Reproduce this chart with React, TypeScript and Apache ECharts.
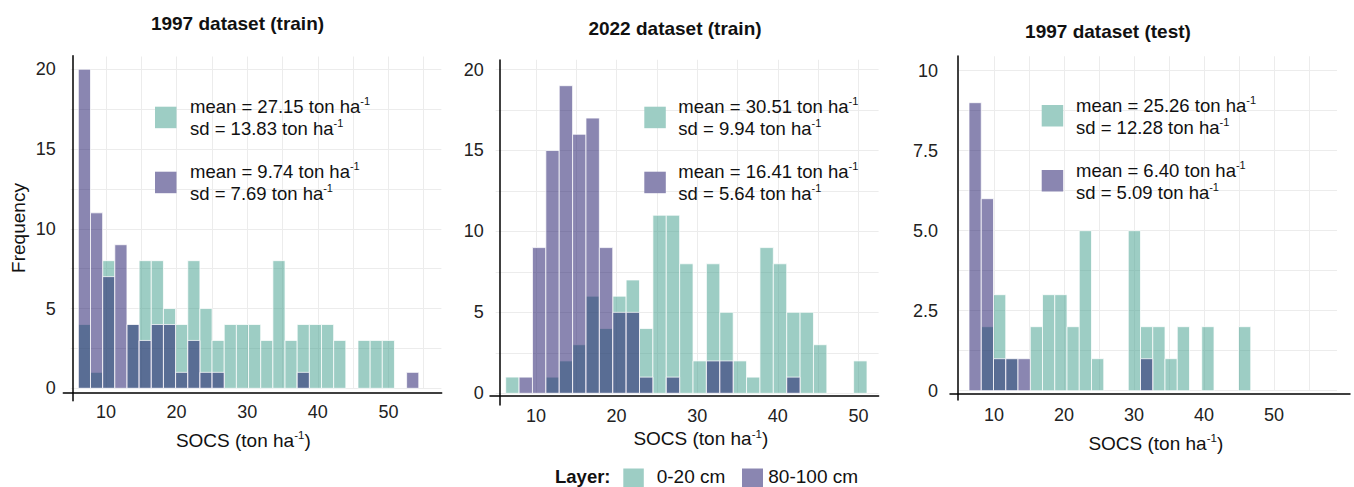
import React, { useEffect, useRef } from "react";
import * as echarts from "echarts";

// ---------------- data ----------------
const panelTitles = ["1997 dataset (train)", "2022 dataset (train)", "1997 dataset (test)"];
const layerNames = ["0-20 cm", "80-100 cm"];

// histogram bins (left edge of first bin, bin width) per panel
const binStart = [6.08, 6.24, 6.43];
const binWidth = [1.722, 1.66, 1.75];

// counts per bin, 0-20 cm layer
const topsoil1997Train = [4, 1, 8, 0, 4, 8, 8, 5, 4, 8, 5, 3, 4, 4, 4, 3, 8, 3, 4, 4, 4, 3, 0, 3, 3, 3, 0, 0];
const topsoil2022Train = [1, 0, 0, 1, 2, 3, 6, 4, 6, 7, 4, 11, 11, 8, 2, 8, 5, 2, 1, 9, 8, 5, 5, 3, 0, 0, 2];
const topsoil1997Test = [0, 2, 3, 1, 0, 2, 3, 3, 2, 5, 1, 0, 0, 5, 2, 2, 1, 2, 0, 2, 0, 0, 2];
// counts per bin, 80-100 cm layer
const subsoil1997Train = [20, 11, 7, 9, 4, 3, 4, 4, 1, 3, 1, 1, 0, 0, 0, 0, 0, 0, 1, 0, 0, 0, 0, 0, 0, 0, 0, 1];
const subsoil2022Train = [0, 1, 9, 15, 19, 16, 17, 9, 5, 5, 1, 0, 1, 0, 0, 2, 2, 0, 0, 0, 0, 1, 0, 0, 0, 0, 0];
const subsoil1997Test = [9, 6, 1, 1, 1, 0, 0, 0, 0, 0, 0, 0, 0, 0, 1, 0, 0, 0, 0, 0, 0, 0, 0];

const topsoilCounts = [topsoil1997Train, topsoil2022Train, topsoil1997Test];
const subsoilCounts = [subsoil1997Train, subsoil2022Train, subsoil1997Test];

// summary statistics shown in the panels
const topsoilMean = ["27.15", "30.51", "25.26"];
const topsoilSd = ["13.83", "9.94", "12.28"];
const subsoilMean = ["9.74", "16.41", "6.40"];
const subsoilSd = ["7.69", "5.64", "5.09"];

// axes
const xMin = [5, 5, 5];
const xMax = [57.5, 52.5, 59];
const xStep = [5, 5, 5];
const xTickValues = [10, 20, 30, 40, 50];
const xTickLabels = ["10", "20", "30", "40", "50"];
const yMax = [20.8, 20.6, 10.45];
const yStep = [2.5, 2.5, 1.25];
const yTickValuesA = [0, 5, 10, 15, 20];
const yTickLabelsA = ["0", "5", "10", "15", "20"];
const yTickValuesB = [0, 2.5, 5, 7.5, 10];
const yTickLabelsB = ["0", "2.5", "5.0", "7.5", "10"];

// ---------------- layout ----------------
const FONT = "'Liberation Sans', Arial, Helvetica, sans-serif";
const TEAL = "rgba(59,155,137,0.5)";
const PURPLE = "rgba(22,14,100,0.5)";
const TEAL_SOLID = "#9dcdc4";
const PURPLE_SOLID = "#8a86b1";
const GRIDLINE = "#ececec";
const ZTOP = 100;

// data grid rectangles
const grids = [
  { left: 70.7, top: 56.5, width: 370.7, height: 331.8 },
  { left: 495.7, top: 59.8, width: 382.9, height: 333.5 },
  { left: 959, top: 56.3, width: 378, height: 334.4 },
];
// axis-line frames: yLineX, xLineStart, xLineY, yLineEnd, top, right
const frames = [
  { yLineX: 72.3, xStart: 63.3, xLineY: 392.5, yEnd: 400.7, top: 55.7, right: 441.7 },
  { yLineX: 499.3, xStart: 490, xLineY: 396.2, yEnd: 405, top: 60, right: 878.6 },
  { yLineX: 957.3, xStart: 950, xLineY: 393.3, yEnd: 400, top: 56, right: 1350 },
];
const xLabelMargin = [14.4, 13.7, 15.3];
const yLabelMargin = [15, 12, 21];
const titlePos = [
  [237.5, 23.3],
  [675, 28],
  [1108, 31],
];
const xNamePos = [
  [243.3, 440],
  [700.8, 438.5],
  [1155.8, 443],
];
const legendPos = [
  { sqX: 155, sq1: 106.7, sq2: 171.7, tx: 190 },
  { sqX: 644.3, sq1: 106.7, sq2: 171.7, tx: 678.3 },
  { sqX: 1041.7, sq1: 105, sq2: 170, tx: 1076 },
];

function labelFor(values: number[], labels: string[]) {
  return (v: number) => {
    for (let i = 0; i < values.length; i++) {
      if (Math.abs(values[i] - v) < 1e-6) return labels[i];
    }
    return "";
  };
}

function histSeries(idx: number, counts: number[], fill: string, name: string) {
  const data: number[][] = [];
  counts.forEach((c, i) => {
    if (c > 0) data.push([binStart[idx] + i * binWidth[idx], binStart[idx] + (i + 1) * binWidth[idx], c]);
  });
  return {
    type: "custom",
    name,
    xAxisIndex: idx,
    yAxisIndex: idx,
    encode: { x: [0, 1], y: 2 },
    data,
    renderItem: (_p: any, api: any) => {
      const a = api.coord([api.value(0), api.value(2)]);
      const b = api.coord([api.value(1), 0]);
      return {
        type: "rect",
        shape: { x: a[0], y: a[1], width: b[0] - a[0], height: b[1] - a[1] },
        style: { fill, stroke: "rgba(255,255,255,0.75)", lineWidth: 1 },
      };
    },
  };
}

const supRich = {
  n: { fontSize: 18.5, lineHeight: 22, fontFamily: FONT, fill: "#111" },
  s: { fontSize: 11, lineHeight: 14, verticalAlign: "top", fontFamily: FONT, fill: "#111" },
};
const axisNameRich = {
  n: { fontSize: 19, lineHeight: 22, fontFamily: FONT, fill: "#111" },
  s: { fontSize: 11.5, lineHeight: 14, verticalAlign: "top", fontFamily: FONT, fill: "#111" },
};

function buildOption() {
  const gridOpt: any[] = [];
  const xAxes: any[] = [];
  const yAxes: any[] = [];
  const series: any[] = [];
  const graphics: any[] = [];

  for (let i = 0; i < 3; i++) {
    const g = grids[i];
    gridOpt.push({ left: g.left, top: g.top, width: g.width, height: g.height, containLabel: false });
    xAxes.push({
      type: "value",
      gridIndex: i,
      min: xMin[i],
      max: xMax[i],
      interval: xStep[i],
      axisLine: { show: false },
      axisTick: { show: false },
      axisLabel: {
        formatter: labelFor(xTickValues, xTickLabels),
        fontSize: 18,
        fontFamily: FONT,
        color: "#222",
        margin: xLabelMargin[i],
        showMinLabel: true,
        showMaxLabel: true,
      },
      splitLine: { show: true, showMinLine: false, showMaxLine: false, lineStyle: { color: GRIDLINE, width: 1 } },
    });
    const yVals = i === 2 ? yTickValuesB : yTickValuesA;
    const yLabs = i === 2 ? yTickLabelsB : yTickLabelsA;
    yAxes.push({
      type: "value",
      gridIndex: i,
      min: 0,
      max: yMax[i],
      interval: yStep[i],
      axisLine: { show: false },
      axisTick: { show: false },
      axisLabel: {
        formatter: labelFor(yVals, yLabs),
        fontSize: 18,
        fontFamily: FONT,
        color: "#222",
        margin: yLabelMargin[i],
      },
      splitLine: { show: true, showMaxLine: false, lineStyle: { color: GRIDLINE, width: 1 } },
    });
    series.push(histSeries(i, topsoilCounts[i], TEAL, layerNames[0]));
    series.push(histSeries(i, subsoilCounts[i], PURPLE, layerNames[1]));
  }

  // frames (axis lines only)
  for (let i = 0; i < 3; i++) {
    const f = frames[i];
    gridOpt.push({
      left: f.xStart,
      top: f.top,
      width: f.right - f.xStart,
      height: f.yEnd - f.top,
      containLabel: false,
    });
    xAxes.push({
      type: "value",
      gridIndex: 3 + i,
      min: 0,
      max: 1,
      offset: -(f.yEnd - f.xLineY),
      axisLine: { show: true, lineStyle: { color: "#000", width: 1.5 } },
      axisTick: { show: false },
      axisLabel: { show: false },
      splitLine: { show: false },
    });
    yAxes.push({
      type: "value",
      gridIndex: 3 + i,
      min: 0,
      max: 1,
      offset: -(f.yLineX - f.xStart),
      axisLine: { show: true, lineStyle: { color: "#000", width: 1.5 } },
      axisTick: { show: false },
      axisLabel: { show: false },
      splitLine: { show: false },
    });
  }

  // titles, axis names, in-panel legends
  for (let i = 0; i < 3; i++) {
    graphics.push({
      type: "text",
      z: ZTOP,
      x: titlePos[i][0],
      y: titlePos[i][1],
      style: {
        text: panelTitles[i],
        fontSize: 19,
        fontWeight: "bold",
        fontFamily: FONT,
        fill: "#111",
        align: "center",
        verticalAlign: "middle",
      },
    });
    graphics.push({
      type: "text",
      z: ZTOP,
      x: xNamePos[i][0],
      y: xNamePos[i][1],
      style: {
        text: "{n|SOCS (ton ha}{s|-1}{n|)}",
        rich: axisNameRich,
        align: "center",
        verticalAlign: "middle",
      },
    });
    const L = legendPos[i];
    graphics.push({
      type: "rect",
      z: ZTOP,
      shape: { x: L.sqX, y: L.sq1, width: 21.5, height: 21.5 },
      style: { fill: TEAL_SOLID },
    });
    graphics.push({
      type: "rect",
      z: ZTOP,
      shape: { x: L.sqX, y: L.sq2, width: 21.5, height: 21.5 },
      style: { fill: PURPLE_SOLID },
    });
    graphics.push({
      type: "text",
      z: ZTOP,
      x: L.tx,
      y: L.sq1 - 11,
      style: {
        text: `{n|mean = ${topsoilMean[i]} ton ha}{s|-1}\n{n|sd = ${topsoilSd[i]} ton ha}{s|-1}`,
        rich: supRich,
        align: "left",
        verticalAlign: "top",
      },
    });
    graphics.push({
      type: "text",
      z: ZTOP,
      x: L.tx,
      y: L.sq2 - 11,
      style: {
        text: `{n|mean = ${subsoilMean[i]} ton ha}{s|-1}\n{n|sd = ${subsoilSd[i]} ton ha}{s|-1}`,
        rich: supRich,
        align: "left",
        verticalAlign: "top",
      },
    });
  }

  graphics.push({
    type: "text",
    z: ZTOP,
    x: 18,
    y: 228,
    rotation: Math.PI / 2,
    style: {
      text: "Frequency",
      fontSize: 19,
      fontFamily: FONT,
      fill: "#111",
      align: "center",
      verticalAlign: "middle",
    },
  });

  // bottom legend
  const legY = 476.5;
  graphics.push({
    type: "text",
    z: ZTOP,
    x: 555,
    y: legY,
    style: { text: "Layer:", fontSize: 18.5, fontWeight: "bold", fontFamily: FONT, fill: "#111", verticalAlign: "middle" },
  });
  graphics.push({ type: "rect", z: ZTOP, shape: { x: 623.3, y: 468.5, width: 20.5, height: 18.5 }, style: { fill: TEAL_SOLID } });
  graphics.push({
    type: "text",
    z: ZTOP,
    x: 656.7,
    y: legY,
    style: { text: layerNames[0], fontSize: 19, fontFamily: FONT, fill: "#111", verticalAlign: "middle" },
  });
  graphics.push({ type: "rect", z: ZTOP, shape: { x: 742, y: 468.5, width: 21, height: 18.5 }, style: { fill: PURPLE_SOLID } });
  graphics.push({
    type: "text",
    z: ZTOP,
    x: 768.3,
    y: legY,
    style: { text: layerNames[1], fontSize: 19, fontFamily: FONT, fill: "#111", verticalAlign: "middle" },
  });

  return {
    animation: false,
    backgroundColor: "#ffffff",
    grid: gridOpt,
    xAxis: xAxes,
    yAxis: yAxes,
    series,
    graphic: { elements: graphics },
  };
}

export default function App() {
  const ref = useRef<HTMLDivElement>(null);
  useEffect(() => {
    document.body.style.margin = "0";
    const chart = echarts.init(ref.current as HTMLDivElement, null, { renderer: "svg" });
    chart.setOption(buildOption() as any);
    return () => {
      chart.dispose();
    };
  }, []);
  return <div ref={ref} style={{ width: 1354, height: 487 }} />;
}
